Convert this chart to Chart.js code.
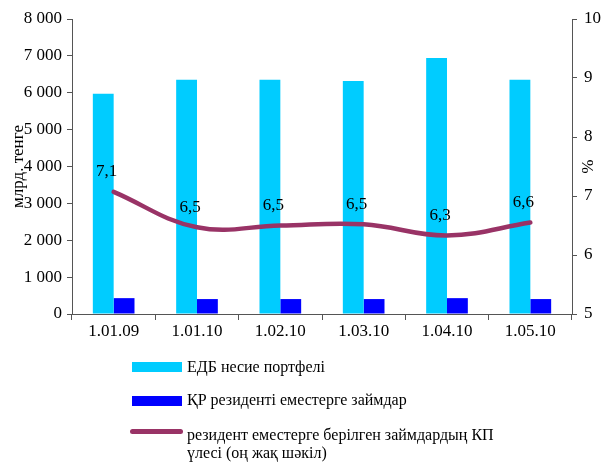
<!DOCTYPE html>
<html>
<head>
<meta charset="utf-8">
<script src="https://cdn.jsdelivr.net/npm/chart.js@4"></script>
<style>
  body { margin: 0; background: #fff; overflow: hidden; }
  #wrap { position: relative; width: 601px; height: 462px; font-family: "Liberation Serif", serif; font-size: 16px; color: #000; }
  #chart { position: absolute; left: 0; top: 0; }
  .sw { position: absolute; }
  .lt { position: absolute; line-height: 18px; white-space: nowrap; }
</style>
</head>
<body>
<div id="wrap">
  <canvas id="chart" width="601" height="462"></canvas>
  <div class="sw" style="left:132px;top:362px;width:50px;height:10px;background:#00CCFF"></div>
  <div class="lt" style="left:187px;top:358px">ЕДБ несие портфелі</div>
  <div class="sw" style="left:132px;top:396px;width:50px;height:10px;background:#0000FF"></div>
  <div class="lt" style="left:187px;top:391px">ҚР резиденті еместерге займдар</div>
  <div class="sw" style="left:130px;top:429px;width:53px;height:5px;border-radius:3px;background:#993366"></div>
  <div class="lt" style="left:187px;top:426px">резидент еместерге берілген займдардың КП<br>үлесі (оң жақ шәкіл)</div>
</div>
<script>
// данные
const dates = ['1.01.09', '1.01.10', '1.02.10', '1.03.10', '1.04.10', '1.05.10'];
const portfolio = [5970, 6350, 6350, 6320, 6940, 6350];
const nonResidentLoans = [430, 405, 405, 405, 430, 405];
const shareKP = [7.07, 6.47, 6.5, 6.52, 6.33, 6.55];
const shareLabels = ['7,1', '6,5', '6,5', '6,5', '6,3', '6,6'];

const font = { family: 'Liberation Serif', size: 17 };
const axisColor = '#555';

// подписи над линией
const lineLabels = {
    id: 'lineLabels',
    afterDatasetsDraw(chart) {
        const meta = chart.getDatasetMeta(2);
        const ctx = chart.ctx;
        ctx.save();
        ctx.font = '17px "Liberation Serif"';
        ctx.fillStyle = '#000';
        ctx.textAlign = 'center';
        ctx.textBaseline = 'middle';
        meta.data.forEach((pt, i) => {
            ctx.fillText(shareLabels[i], pt.x - 7, pt.y - 20);
        });
        ctx.restore();
    }
};

new Chart(document.getElementById('chart'), {
    data: {
        labels: dates,
        datasets: [
            {
                type: 'bar',
                label: 'ЕДБ несие портфелі',
                data: portfolio,
                backgroundColor: '#00CCFF',
                yAxisID: 'y',
                order: 1,
                categoryPercentage: 0.5,
                barPercentage: 1
            },
            {
                type: 'bar',
                label: 'ҚР резиденті еместерге займдар',
                data: nonResidentLoans,
                backgroundColor: '#0000FF',
                yAxisID: 'y',
                order: 1,
                categoryPercentage: 0.5,
                barPercentage: 1
            },
            {
                type: 'line',
                label: 'резидент еместерге берілген займдардың КП үлесі (оң жақ шәкіл)',
                data: shareKP,
                borderColor: '#993366',
                borderWidth: 4.5,
                borderCapStyle: 'round',
                pointRadius: 0,
                tension: 0.4,
                yAxisID: 'y1',
                order: 0
            }
        ]
    },
    options: {
        responsive: false,
        animation: false,
        layout: { padding: { top: 19, bottom: 118, left: 0, right: 0 } },
        plugins: {
            legend: { display: false },
            tooltip: { enabled: false }
        },
        scales: {
            x: {
                grid: { drawOnChartArea: false, drawTicks: true, tickLength: 6, color: axisColor, offset: true },
                border: { display: true, color: axisColor },
                ticks: { font: font, color: '#000', padding: 1, maxRotation: 0 },
                afterFit(scale) { scale.height = 30; }
            },
            y: {
                position: 'left',
                min: 0,
                max: 8000,
                grid: { drawOnChartArea: false, drawTicks: true, tickLength: 5, color: axisColor },
                border: { display: true, color: axisColor },
                ticks: {
                    stepSize: 1000,
                    font: font,
                    color: '#000',
                    padding: 5,
                    callback: v => String(v).replace(/\B(?=(\d{3})+(?!\d))/g, ' ')
                },
                title: { display: true, text: 'млрд. тенге', font: font, color: '#000', padding: 8 },
                afterFit(scale) { scale.width = 72; }
            },
            y1: {
                position: 'right',
                min: 5,
                max: 10,
                grid: { drawOnChartArea: false, drawTicks: true, tickLength: 5, color: axisColor },
                border: { display: true, color: axisColor },
                ticks: { stepSize: 1, font: font, color: '#000', padding: 7 },
                title: { display: true, text: '%', font: font, color: '#000', padding: 4 },
                afterFit(scale) { scale.width = 29; }
            }
        }
    },
    plugins: [lineLabels]
});
</script>
</body>
</html>
